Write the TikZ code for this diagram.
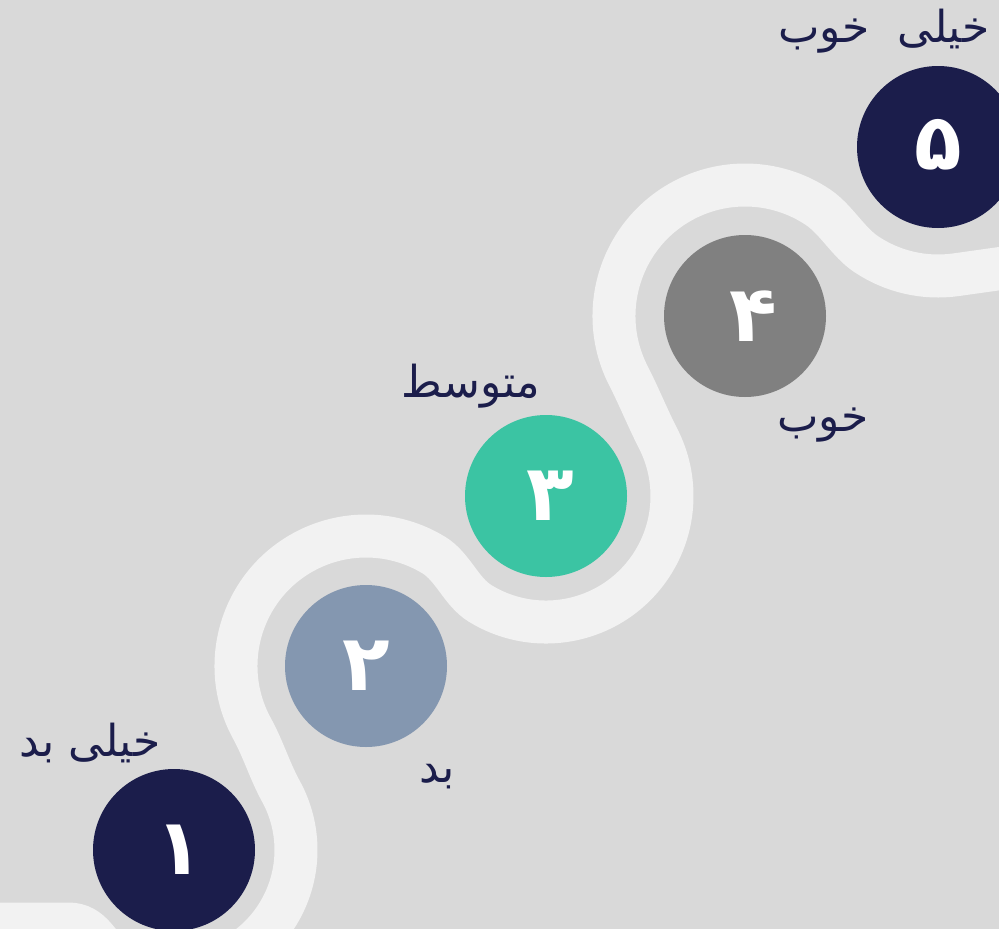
\documentclass[tikz,border=0pt]{standalone}
\usepackage{fontspec}
\newfontfamily\arabicfont[Script=Arabic]{DejaVu Sans}
\TeXXeTstate=1
\definecolor{bgrey}{HTML}{D9D9D9}
\definecolor{roadcol}{HTML}{F2F2F2}
\definecolor{navy}{HTML}{1B1D4B}
\definecolor{slate}{HTML}{8497B0}
\definecolor{mint}{HTML}{3BC4A3}
\definecolor{midgrey}{HTML}{808080}
\tikzset{road/.style={draw=roadcol,line width=43pt}}
\tikzset{stepnode/.style={circle,inner sep=0pt,minimum size=162pt,text=white,font=\arabicfont\bfseries\fontsize{78}{80}\selectfont}}
\tikzset{lbl/.style={text=navy,inner sep=0pt,font=\arabicfont\fontsize{44}{50}\selectfont}}
\begin{document}
\begin{tikzpicture}[x=1pt,y=-1pt]
    \useasboundingbox (0,0) rectangle (999,929);
    \clip (0,0) rectangle (999,929);
    \fill[bgrey] (0,0) rectangle (999,929);

    \foreach \n/\x/\y in {1/174/850,2/366/666,3/546/496,4/745/316,5/938/147}{
      \coordinate (k\n) at (\x,\y);
    }

    % winding road
    \draw[road] (-30,924) -- (68,924)
      .. controls +(0:25) and +(210:18) .. ([shift={(120:122)}]k1)
      arc[start angle=120,end angle=-28.8,radius=122]
      .. controls +(-118.8:23) and +(61.2:23) .. ([shift={(151.2:130)}]k2)
      arc[start angle=151.2,end angle=301.6,radius=130]
      .. controls +(31.6:22) and +(211.6:22) .. ([shift={(121.6:126)}]k3)
      arc[start angle=121.6,end angle=-27.1,radius=126]
      .. controls +(-117.1:23) and +(62.9:23) .. ([shift={(152.9:131)}]k4)
      arc[start angle=152.9,end angle=303.8,radius=131]
      .. controls +(33.8:22) and +(213.8:22) .. ([shift={(123.8:129)}]k5)
      arc[start angle=123.8,end angle=82,radius=129]
      -- ++(-8:80);

    \node[stepnode,fill=navy] (s1) at (k1) {\hspace{10pt}\raisebox{-4pt}{۱}};
    \node[stepnode,fill=slate] (s2) at (k2) {۲};
    \node[stepnode,fill=mint] (s3) at (k3) {\hspace{8pt}۳};
    \node[stepnode,fill=midgrey] (s4) at (k4) {\hspace{16pt}۴};
    \node[stepnode,fill=navy] (s5) at (k5) {\raisebox{6pt}{۵}};

    \node[lbl] (l1) at (90,743) {\beginR خیلی بد\endR};
    \node[lbl] (l2) at (437,777) {\beginR بد\endR};
    \node[lbl] (l3) at (471,386) {\beginR متوسط\endR};
    \node[lbl] (l4) at (823,425) {\beginR خوب\endR};
    \node[lbl] (l5) at (884,31) {\beginR خیلی\ \ خوب\endR};
\end{tikzpicture}
\end{document}
